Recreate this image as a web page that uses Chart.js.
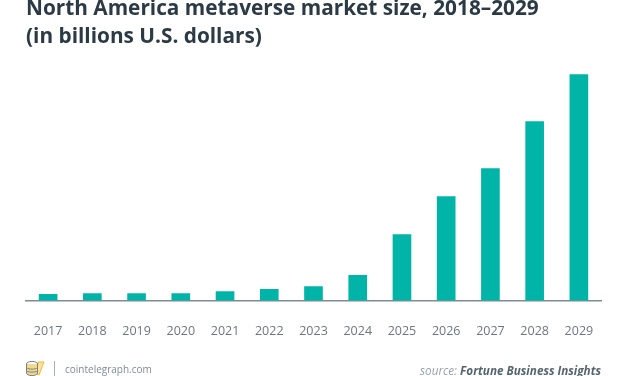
<!doctype html>
<html lang="en">
<head>
  <meta charset="utf-8">
  <title>North America metaverse market size</title>
  <style>
    * { margin: 0; padding: 0; }
    body { width: 627px; height: 376px; overflow: hidden; background: white; font-family: "Open Sans", sans-serif; position: relative; }
    #chartBox { position: absolute; left: 0; top: 0; width: 627px; height: 376px; }
    .title { position: absolute; left: 26px; top: -6px; font-size: 20.8px; line-height: 27.500px; font-weight: 700; color: #2b3a44; white-space: nowrap; }
    .site { position: absolute; left: 65px; top: 361px; font-size: 10px; line-height: 16px; color: #7f8b93; font-family: "Open Sans", sans-serif; }
    .sep { position: absolute; left: 54px; top: 361px; width: 1px; height: 15px; background: #a9b1b6; }
    .source { position: absolute; right: 26px; top: 361px; font-size: 11.7px; line-height: 18px; font-style: italic; color: #9aa3a9; white-space: nowrap; }
    .source b { color: #55646f; font-weight: 700; }
    svg { position: absolute; left: 25px; top: 360px; }
  </style>
</head>
<body>
<div id="chartBox"><canvas id="myChart"></canvas></div>
<div class="title">North America metaverse market size, 2018–2029<br>(in billions U.S. dollars)</div>
<svg width="20" height="16" viewBox="0 0 20 16">
  <path d="M13 2h6l-2 5-3 8-2-1z" fill="#fbe3a6" stroke="#f2b632" stroke-width="1"/>
  <ellipse cx="7" cy="4" rx="5.5" ry="2.6" fill="#fff" stroke="#77838b"/>
  <path d="M1.500 4v9c0 1.500 2.500 2.600 5.500 2.600s5.500-1.100 5.500-2.600V4" fill="#f4d98c" stroke="#77838b"/>
  <path d="M2 8c1 1.500 9 1.500 10 0M2 11c1 1.500 9 1.500 10 0" fill="none" stroke="#77838b"/>
</svg>
<div class="sep"></div>
<div class="site">cointelegraph.com</div>
<div class="source">source: <b>Fortune Business Insights</b></div>

<script src="https://cdn.jsdelivr.net/npm/chart.js"></script>
<script>
  const years = ['2017','2018','2019','2020','2021','2022','2023','2024','2025','2026','2027','2028','2029'];
  // no value axis in the picture, so read as relative height (2029 = 100)
  const marketSize = [2.7, 3.1, 3.1, 3.1, 4, 4.9, 6.2, 11.1, 29.2, 46, 58.4, 79.2, 100];
  const axisMax = 106;

  new Chart(document.getElementById('myChart'), {
    type: 'bar',
    data: {
      labels: years,
      datasets: [{
        data: marketSize,
        backgroundColor: '#00b5a8',
        barThickness: 18
      }]
    },
    options: {
      responsive: true,
      maintainAspectRatio: false,
      animation: false,
      layout: { padding: { left: 26, right: 26, top: 61, bottom: 14.5 } },
      plugins: { legend: { display: false }, tooltip: { enabled: false } },
      scales: {
        x: {
          grid: { display: false, drawTicks: false },
          border: { color: '#7d8c95', width: 1.5 },
          ticks: {
            color: '#6b7780',
            padding: 23,
            maxRotation: 0,
            autoSkip: false,
            font: { family: '"Open Sans"', size: 12.5 }
          }
        },
        y: { display: false, min: 0, max: axisMax }
      }
    }
  });
</script>
</body>
</html>
